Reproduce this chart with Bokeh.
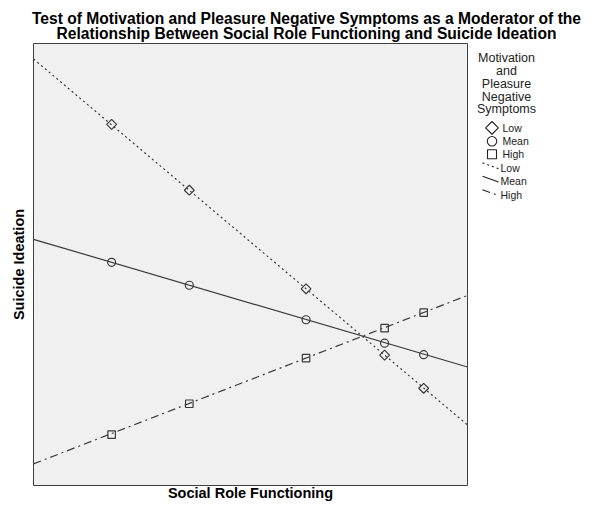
import numpy as np
from bokeh.plotting import figure
from bokeh.layouts import column, row
from bokeh.models import Range1d, FixedTicker
from bokeh.embed import file_html
from bokeh.resources import INLINE
from bokeh.core.properties import value

# ---------------- data ----------------
title_lines = ["Test of Motivation and Pleasure Negative Symptoms as a Moderator of the",
               "Relationship Between Social Role Functioning and Suicide Ideation"]
x_label = "Social Role Functioning"
y_label = "Suicide Ideation"
legend_title = ["Motivation", "and", "Pleasure", "Negative", "Symptoms"]
groups = ["Low", "Mean", "High"]

social_role = [1.80, 3.59, 6.28, 8.09, 8.99]
ideation_low = [8.17, 6.68, 4.45, 2.95, 2.20]
ideation_mean = [5.05, 4.53, 3.75, 3.22, 2.96]
ideation_high = [1.15, 1.85, 2.88, 3.56, 3.91]

fit_x = [0.0, 10.0]
fit_low = [9.65, 1.37]
fit_mean = [5.57, 2.68]
fit_high = [0.49, 4.30]

# ---------------- style ----------------
FONT = "Liberation Sans"
INK = "#3a3a3a"
LEG = "#222222"
dashes = {"Low": "2 3", "Mean": "solid", "High": "8 4 2 4"}

# ---------------- title strip ----------------
tf = figure(width=584, height=42, x_range=Range1d(0, 584), y_range=Range1d(42, 0),
            min_border=0, output_backend="svg", toolbar_location=None,
            outline_line_color=None)
tf.axis.visible = False
tf.grid.visible = False
tf.text(x=[306, 306], y=[18.3, 33.4], text=title_lines, text_align="center",
        text_baseline="alphabetic", text_font=value(FONT), text_font_style="bold",
        text_font_size="15.6px", text_color="black")

# ---------------- main plot ----------------
p = figure(width=474, height=461, x_range=Range1d(0, 10), y_range=Range1d(0, 10),
           output_backend="svg", toolbar_location=None,
           min_border_left=33, min_border_right=7, min_border_top=1, min_border_bottom=16,
           background_fill_color="#f0f0f0", outline_line_color="#404040",
           outline_line_width=1)
p.grid.visible = False
for ax in p.axis:
    ax.ticker = FixedTicker(ticks=[])
    ax.major_tick_out = 0
    ax.major_tick_in = 0
    ax.minor_tick_out = 0
    ax.minor_tick_in = 0
    ax.axis_line_color = None
    ax.major_label_standoff = 0
    ax.axis_label_text_font = FONT
    ax.axis_label_text_font_style = "bold"
    ax.axis_label_text_font_size = "14.5px"
    ax.axis_label_text_color = "black"
p.xaxis.axis_label = x_label
p.yaxis.axis_label = y_label
p.xaxis.axis_label_standoff = -1
p.yaxis.axis_label_standoff = 7

p.line(fit_x, fit_low, line_color=INK, line_width=1.2, line_dash=dashes["Low"])
p.line(fit_x, fit_mean, line_color=INK, line_width=1.2, line_dash=dashes["Mean"])
p.line(fit_x, fit_high, line_color=INK, line_width=1.2, line_dash=dashes["High"])

p.scatter(social_role, ideation_low, marker="square", angle=np.pi / 4, size=7,
          fill_color=None, line_color=INK, line_width=1.2)
p.scatter(social_role, ideation_mean, marker="circle", size=8,
          fill_color=None, line_color=INK, line_width=1.2)
p.scatter(social_role, ideation_high, marker="square", size=7.5,
          fill_color=None, line_color=INK, line_width=1.2)

# ---------------- legend panel ----------------
lg = figure(width=110, height=461, x_range=Range1d(474, 584), y_range=Range1d(503, 42),
            min_border=0, output_backend="svg", toolbar_location=None,
            outline_line_color=None)
lg.axis.visible = False
lg.grid.visible = False
lg.text(x=[506] * len(legend_title), y=[57.5 + 13.3 * i for i in range(len(legend_title))],
        text=legend_title, text_align="center", text_baseline="middle",
        text_font=value(FONT), text_font_size="12.5px", text_color=LEG)

mk_y = [130, 144, 157.5]
lg.scatter([491.5], [mk_y[0]], marker="square", angle=np.pi / 4, size=9,
           fill_color=None, line_color=LEG, line_width=1.1)
lg.scatter([491.5], [mk_y[1]], marker="circle", size=9.5,
           fill_color=None, line_color=LEG, line_width=1.1)
lg.scatter([491.5], [mk_y[2]], marker="square", size=9,
           fill_color=None, line_color=LEG, line_width=1.1)
lg.text(x=[502] * 3, y=mk_y, text=groups, text_align="left", text_baseline="middle",
        text_font=value(FONT), text_font_size="10.5px", text_color=LEG)

ln_y = [169.5, 183.5, 197.5]
for g, yy in zip(groups, ln_y):
    lg.line([482, 498], [yy - 3, yy + 3], line_color=LEG, line_width=1.1,
            line_dash=dashes[g])
lg.text(x=[500] * 3, y=[yy + 2.2 for yy in ln_y], text=groups, text_align="left",
        text_baseline="middle", text_font=value(FONT), text_font_size="10.5px",
        text_color=LEG)

layout = column(tf, row(p, lg))
open("out.html", "w").write(file_html(layout, INLINE))
